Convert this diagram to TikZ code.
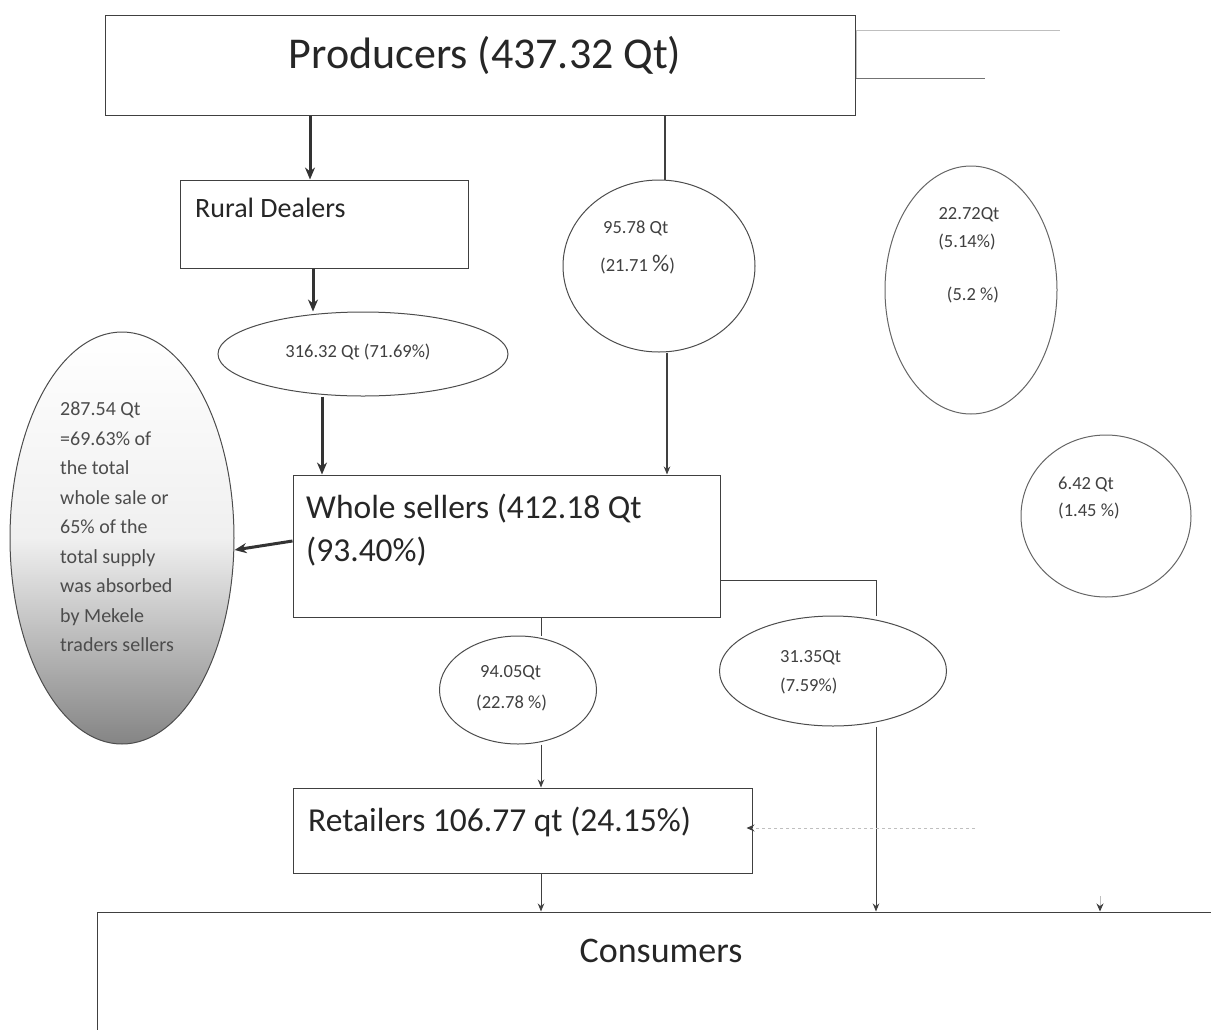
\documentclass[tikz,border=0pt]{standalone}
\usepackage{fontspec}
\setmainfont{Carlito}
\usetikzlibrary{shapes.geometric,arrows.meta}
\begin{document}
\begin{tikzpicture}[x=1pt,y=-1pt,
  box/.style={draw=black!75, line width=1pt, rectangle, inner sep=0pt},
  oval/.style={draw=black!70, line width=1pt, ellipse, inner sep=0pt},
  thinline/.style={draw=black!75, line width=1pt},
  thinarr/.style={thinline, -{Stealth[length=8pt,width=6.5pt]}},
  thkarr/.style={draw=black!80, line width=3pt, -{Stealth[length=12pt,width=10pt]}},
  faint/.style={draw=black!25, line width=1pt},
  bigtxt/.style={font=\fontsize{44}{50}\selectfont, text=black!85, inner sep=0pt},
  midtxt/.style={font=\fontsize{33.5}{38}\selectfont, text=black!85, inner sep=0pt},
  rdtxt/.style={font=\fontsize{28}{32}\selectfont, text=black!85, inner sep=0pt},
  smtxt/.style={font=\fontsize{18.5}{22}\selectfont, text=black!75, inner sep=0pt},
  lbltxt/.style={font=\fontsize{20}{29.5}\selectfont, text=black!70, inner sep=0pt, align=left}
]
\useasboundingbox (0,0) rectangle (1211,1029);
\clip (0,0) rectangle (1211,1029);

% boxes
\node[box, minimum width=750pt, minimum height=100pt] (prod) at (480,65) {};
\node[box, minimum width=288pt, minimum height=88pt] (rural) at (324,224) {};
\node[box, minimum width=427pt, minimum height=142pt] (ws) at (506.5,546) {};
\node[box, minimum width=459pt, minimum height=85pt] (ret) at (522.5,830.5) {};
\node[box, minimum width=1140pt, minimum height=150pt] (cons) at (667,987) {};

% faint box top right
\draw[faint] (856,30) -- (1060,30);
\draw[faint] (856,30) -- (856,78);
\draw[draw=black!55, line width=1pt] (856,78) -- (985,78);

% ellipses
\node[oval, minimum width=290pt, minimum height=84pt] (e1) at (363,354) {};
\node[oval, minimum width=192pt, minimum height=172pt] (e2) at (659,266) {};
\node[oval, draw=black!60, minimum width=172pt, minimum height=248pt] (e3) at (971,290) {};
\node[oval, draw=black!60, minimum width=170pt, minimum height=162pt] (e6) at (1106,516) {};
\node[oval, minimum width=157pt, minimum height=108pt] (e4) at (518,690) {};
\node[oval, minimum width=227pt, minimum height=110pt] (e5) at (833,671) {};
\node[oval, draw=black!70, top color=white, bottom color=black!48, middle color=black!6,
      minimum width=224pt, minimum height=412pt] (el) at (122,538) {};

% texts
\node[bigtxt, anchor=base] (tprod) at (485,68) {Producers (437.32 Qt)};
\node[rdtxt, anchor=base west] (trural) at (195,217) {Rural Dealers};
\node[smtxt, anchor=base] (te1) at (358,357) {316.32 Qt (71.69\%)};
\node[smtxt, anchor=base west] (te2a) at (603,233) {95.78 Qt};
\node[smtxt, anchor=base west] (te2b) at (600,271) {(21.71 {\fontsize{24}{24}\selectfont\%})};
\node[smtxt, anchor=base] (te3a) at (969,219) {22.72Qt};
\node[smtxt, anchor=base] (te3b) at (967,247) {(5.14\%)};
\node[smtxt, anchor=base] (te3c) at (973,300) {(5.2 \%)};
\node[smtxt, anchor=base west] (te6a) at (1058,489) {6.42 Qt};
\node[smtxt, anchor=base west] (te6b) at (1058,516) {(1.45 \%)};
\node[midtxt, anchor=base west] (tws1) at (306,518) {Whole sellers (412.18 Qt};
\node[midtxt, anchor=base west] (tws2) at (306,561) {(93.40\%)};
\node[lbltxt, anchor=north west] (tel) at (60,402) {287.54 Qt\\=69.63\% of\\the total\\whole sale or\\65\% of the\\total supply\\was absorbed\\by Mekele\\traders sellers};
\node[smtxt, anchor=base west] (te4a) at (480,677) {94.05Qt};
\node[smtxt, anchor=base west] (te4b) at (476,708) {(22.78 \%)};
\node[smtxt, anchor=base west] (te5a) at (780,662) {31.35Qt};
\node[smtxt, anchor=base west] (te5b) at (780,691) {(7.59\%)};
\node[midtxt, anchor=base west] (tret) at (308,831) {Retailers 106.77 qt (24.15\%)};
\node[midtxt, font=\fontsize{36}{40}\selectfont, anchor=base] (tcons) at (661,962) {Consumers};

% connectors
\coordinate (j1) at (876,580);
\coordinate (f1) at (975,828);
\coordinate (f2) at (1100,896);
\draw[thkarr] (prod.south -| 310,0) -- (rural.north -| 310,0);
\draw[thkarr] (rural.south -| 313,0) -- (e1.north -| 313,0);
\draw[thkarr] (e1.south -| 322,0) -- (ws.north -| 322,0);
\draw[thinline, line width=1.8pt] (prod.south -| 665,0) -- (e2.north -| 665,0);
\draw[thinarr, line width=1.8pt] (e2.south -| 667,0) -- (ws.north -| 667,0);
\draw[thkarr] (ws.west |- 0,541) -- (el.east |- 0,550);
\draw[thinline] (ws.east |- j1) -- (j1) -- (e5.north -| j1);
\draw[thinarr] (e5.south -| j1) -- (cons.north -| j1);
\draw[thinline] (ws.south -| 541,0) -- (e4.north -| 541,0);
\draw[thinarr] (e4.south -| 541,0) -- (ret.north -| 541,0);
\draw[thinarr] (ret.south -| 541,0) -- (cons.north -| 541,0);
\draw[faint, dashed, -{Stealth[length=8pt,width=7pt,color=black!75]}, shorten >=-6pt] (f1) -- (ret.east |- f1);
\draw[faint, -{Stealth[length=8pt,width=7pt,color=black!75]}] (f2) -- (cons.north -| f2);
\end{tikzpicture}
\end{document}
